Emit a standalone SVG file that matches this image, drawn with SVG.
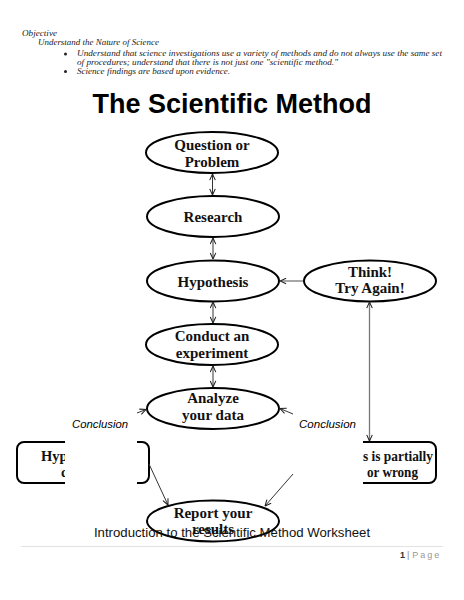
<svg xmlns="http://www.w3.org/2000/svg" width="464" height="600" viewBox="0 0 464 600">
<style>
.hd{font-family:"Liberation Serif",serif;font-style:italic;font-size:7.8px;fill:#222}
.nt{font-family:"Liberation Serif",serif;font-weight:bold;font-size:15px;fill:#111;text-anchor:middle}
.rt{font-family:"Liberation Serif",serif;font-weight:bold;font-size:14.5px;fill:#111}
.el{fill:#fff;stroke:#000;stroke-width:2}
.bx{fill:#fff;stroke:#000;stroke-width:2}
.cl{font-family:"Liberation Sans",sans-serif;font-style:italic;font-size:11px;fill:#000}
.c1{stroke:#333;stroke-width:1;fill:none}
.c2{stroke:#777;stroke-width:1.3;fill:none}
</style>
<defs>
<marker id="ah" viewBox="0 0 8 8" refX="7.5" refY="4" markerWidth="7" markerHeight="7" markerUnits="userSpaceOnUse" orient="auto-start-reverse">
<path d="M0.5,0.8 L7.5,4 L0.5,7.2" fill="none" stroke="#222" stroke-width="1.2"/>
</marker>
</defs>
<rect width="464" height="600" fill="#fff"/>
<g id="header">
<text class="hd" x="22" y="36" textLength="35" lengthAdjust="spacingAndGlyphs">Objective</text>
<text class="hd" x="38" y="45" textLength="121" lengthAdjust="spacingAndGlyphs">Understand the Nature of Science</text>
<circle cx="65.5" cy="54" r="1.5" fill="#222"/>
<text class="hd" x="77" y="56" textLength="365" lengthAdjust="spacingAndGlyphs">Understand that science investigations use a variety of methods and do not always use the same set</text>
<text class="hd" x="77" y="64.5" textLength="261" lengthAdjust="spacingAndGlyphs">of procedures; understand that there is not just one "scientific method."</text>
<circle cx="65.5" cy="71.5" r="1.5" fill="#222"/>
<text class="hd" x="77" y="74" textLength="153" lengthAdjust="spacingAndGlyphs">Science findings are based upon evidence.</text>
</g>
<text id="title" x="232" y="113" font-family="Liberation Sans,sans-serif" font-weight="bold" font-size="27" text-anchor="middle" fill="#000">The Scientific Method</text>
<g id="question"><ellipse class="el" cx="212" cy="152.5" rx="66" ry="20.5"/><text class="nt" x="212" y="150">Question or</text><text class="nt" x="212" y="167">Problem</text></g>
<g id="research"><ellipse class="el" cx="213" cy="216.5" rx="66" ry="20.5"/><text class="nt" x="213" y="222">Research</text></g>
<g id="hypothesis"><ellipse class="el" cx="213" cy="281" rx="66" ry="20.5"/><text class="nt" x="213" y="287">Hypothesis</text></g>
<g id="think"><ellipse class="el" cx="370" cy="281" rx="66" ry="20.5"/><text class="nt" x="370" y="277">Think!</text><text class="nt" x="370" y="293">Try Again!</text></g>
<g id="conduct"><ellipse class="el" cx="212" cy="344.5" rx="66" ry="20.5"/><text class="nt" x="212" y="341">Conduct an</text><text class="nt" x="212" y="358">experiment</text></g>
<g id="analyze"><ellipse class="el" cx="213" cy="408.5" rx="66" ry="20.5"/><text class="nt" x="213" y="403">Analyze</text><text class="nt" x="213" y="420">your data</text></g>
<g id="correct"><rect class="bx" x="17" y="442" width="132" height="41" rx="7"/><text class="rt" x="41" y="461">Hyp</text><text class="rt" x="61" y="477">c</text></g>
<g id="wrong"><rect class="bx" x="303" y="442" width="133" height="41" rx="7"/><text class="rt" x="363" y="461" textLength="70" lengthAdjust="spacingAndGlyphs">s is partially</text><text class="rt" x="367" y="477" textLength="51" lengthAdjust="spacingAndGlyphs">or wrong</text></g>
<g id="label-left"><rect x="65" y="412" width="72" height="80" fill="#fff"/><text class="cl" x="72" y="428" textLength="56" lengthAdjust="spacingAndGlyphs">Conclusion</text></g>
<g id="label-right"><rect x="293" y="412" width="70" height="80" fill="#fff"/><text class="cl" x="299" y="428" textLength="57" lengthAdjust="spacingAndGlyphs">Conclusion</text></g>
<g id="report"><ellipse class="el" cx="213" cy="521" rx="66" ry="20.5"/><text class="nt" x="213" y="518">Report your</text><text class="nt" x="213" y="534">results</text></g>
<g id="connectors">
<line class="c1" x1="212.5" y1="174" x2="212.5" y2="195" marker-start="url(#ah)" marker-end="url(#ah)"/>
<line class="c1" x1="213" y1="238" x2="213" y2="259" marker-start="url(#ah)" marker-end="url(#ah)"/>
<line class="c1" x1="213" y1="302" x2="213" y2="323" marker-start="url(#ah)" marker-end="url(#ah)"/>
<line class="c1" x1="213" y1="366" x2="213" y2="387" marker-start="url(#ah)" marker-end="url(#ah)"/>
<line class="c2" x1="303" y1="281" x2="280" y2="281" marker-end="url(#ah)"/>
<line class="c2" x1="369.5" y1="441" x2="369.5" y2="302" marker-start="url(#ah)" marker-end="url(#ah)"/>
<line class="c1" x1="137" y1="413" x2="146" y2="409.5" marker-end="url(#ah)"/>
<line class="c1" x1="293" y1="414" x2="280" y2="408.5" marker-end="url(#ah)"/>
<line class="c1" x1="149" y1="464" x2="168" y2="505" marker-end="url(#ah)"/>
<line class="c1" x1="293" y1="474" x2="265" y2="506" marker-end="url(#ah)"/>
</g>
<g id="footer">
<text x="232" y="537" font-family="Liberation Sans,sans-serif" font-size="13.2" text-anchor="middle" fill="#111">Introduction to the Scientific Method Worksheet</text>
<line x1="21" y1="546.5" x2="443" y2="546.5" stroke="#e2e2e2" stroke-width="1"/>
<text x="400" y="558" font-family="Liberation Sans,sans-serif" font-size="9" fill="#333"><tspan font-weight="bold">1</tspan><tspan fill="#888" dx="2">|</tspan><tspan fill="#999" dx="3" letter-spacing="2">Page</tspan></text>
</g>
</svg>
